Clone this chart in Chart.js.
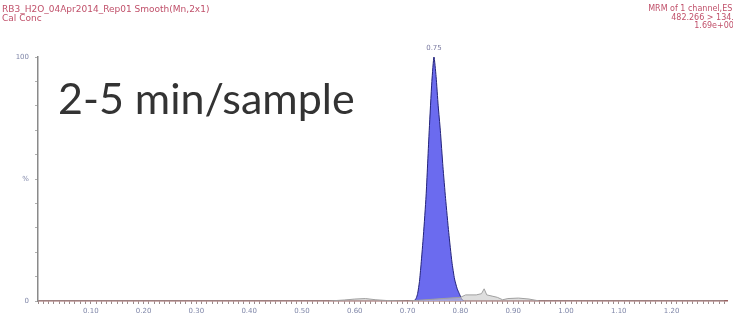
<!DOCTYPE html>
<html>
<head>
<meta charset="utf-8">
<script src="https://cdn.jsdelivr.net/npm/chart.js@4/dist/chart.umd.min.js"></script>
<style>
  html, body { margin: 0; padding: 0; background: #fff; }
  #wrap { position: relative; width: 733px; height: 321px; overflow: hidden; }
  .hdr { position: absolute; font-family: "DejaVu Sans", sans-serif; color: #c0506a; white-space: nowrap; }
  #hdrLeft { left: 2px; top: 5px; font-size: 9px; line-height: 9px; }
  #hdrRight { right: -6px; top: 5px; text-align: right; font-size: 8px; line-height: 8.5px; }
  #title { position: absolute; left: 58px; top: 72px; font: 43px Lato, "Open Sans", sans-serif; color: #333; white-space: nowrap; }
</style>
</head>
<body>
<div id="wrap">
  <canvas id="c"></canvas>
  <div class="hdr" id="hdrLeft">RB3_H2O_04Apr2014_Rep01 Smooth(Mn,2x1)<br>Cal Conc</div>
  <div class="hdr" id="hdrRight">MRM of 1 channel,ES+<br>482.266 &gt; 134.3<br>1.69e+004</div>
  <div id="title">2-5 min/sample</div>
</div>
<script>
// Retention time (min) and relative intensity (%) of the baseline trace
const traceTime = [0.00, 0.55, 0.58, 0.60, 0.62, 0.64, 0.66, 0.70, 0.80, 0.81, 0.83, 0.84, 0.845, 0.85, 0.86, 0.87, 0.88, 0.89, 0.91, 0.93, 0.95, 1.30];
const traceValue = [0.0, 0.0, 0.4, 0.8, 1.0, 0.5, 0.2, 0.0, 1.5, 2.5, 2.5, 3.0, 5.0, 2.5, 2.0, 1.5, 0.5, 1.0, 1.2, 0.8, 0.0, 0.0];

// Integrated peak (retention time 0.75 min)
const peakTime  = [0.712, 0.716, 0.719, 0.7225, 0.7255, 0.730, 0.735, 0.741, 0.746, 0.750, 0.754, 0.758, 0.762, 0.767, 0.772, 0.778, 0.784, 0.789, 0.794, 0.798, 0.802, 0.806];
const peakValue = [0, 1, 3, 8, 15, 27, 43, 70, 90, 100, 92, 80, 70, 55, 42, 28, 16, 9, 5, 3, 1, 0];

// Axis labels
const xMajorTicks = [0.10, 0.20, 0.30, 0.40, 0.50, 0.60, 0.70, 0.80, 0.90, 1.00, 1.10, 1.20];
const yTickLabels = { 0: '0', 50: '%', 100: '100' };

const toPoints = (xs, ys) => xs.map((x, i) => ({ x: x, y: ys[i] }));

const peakLabel = {
  id: 'peakLabel',
  afterDatasetsDraw(chart) {
    const idx = peakValue.indexOf(Math.max(...peakValue));
    const xs = chart.scales.x, ys = chart.scales.y;
    const ctx = chart.ctx;
    ctx.save();
    ctx.font = '7px "DejaVu Sans", sans-serif';
    ctx.fillStyle = '#7a7aa0';
    ctx.textAlign = 'center';
    ctx.textBaseline = 'bottom';
    ctx.fillText(peakTime[idx].toFixed(2), xs.getPixelForValue(peakTime[idx]), ys.getPixelForValue(peakValue[idx]) - 5);
    ctx.restore();
  }
};

new Chart(document.getElementById('c'), {
  type: 'scatter',
  data: {
    datasets: [
      {
        data: toPoints(traceTime, traceValue),
        showLine: true,
        borderColor: '#a0a0a0',
        backgroundColor: 'rgba(200,200,200,0.6)',
        fill: 'origin',
        borderWidth: 1,
        pointRadius: 0,
        tension: 0
      },
      {
        data: toPoints(peakTime, peakValue),
        showLine: true,
        borderColor: '#22227a',
        backgroundColor: '#6b6bef',
        fill: 'origin',
        borderWidth: 1,
        pointRadius: 0,
        tension: 0.2
      }
    ]
  },
  options: {
    responsive: true,
    maintainAspectRatio: false,
    animation: false,
    events: [],
    layout: { padding: { top: 57, right: 6, left: 0, bottom: 0 } },
    plugins: { legend: { display: false }, tooltip: { enabled: false } },
    scales: {
      x: {
        type: 'linear',
        min: 0,
        max: 1.305,
        afterFit(scale) { scale.height = 20; },
        afterBuildTicks(scale) {
          const t = [];
          for (let k = 0; k <= 130; k++) t.push({ value: k / 100 });
          scale.ticks = t;
        },
        border: { color: '#9a6060', width: 1.5 },
        grid: { drawOnChartArea: false, drawTicks: true, tickLength: 3, color: '#9a8a8a' },
        ticks: {
          autoSkip: false,
          maxRotation: 0,
          padding: 3,
          color: '#7f86a8',
          font: { size: 7, family: 'DejaVu Sans' },
          callback(v) {
            const hit = xMajorTicks.find(m => Math.abs(m - v) < 1e-6);
            return hit !== undefined ? hit.toFixed(2) : '';
          }
        }
      },
      y: {
        min: 0,
        max: 100,
        afterFit(scale) { scale.width = 38; },
        afterBuildTicks(scale) {
          const t = [];
          for (let k = 0; k <= 100; k += 10) t.push({ value: k });
          scale.ticks = t;
        },
        border: { color: '#8a8a8a', width: 1.5 },
        grid: { drawOnChartArea: false, drawTicks: true, tickLength: 3, color: '#b0b0b0' },
        ticks: {
          autoSkip: false,
          padding: 6,
          color: '#7f86a8',
          font: { size: 7, family: 'DejaVu Sans' },
          callback(v) { return yTickLabels[v] !== undefined ? yTickLabels[v] : ''; }
        }
      }
    }
  },
  plugins: [peakLabel]
});
</script>
</body>
</html>
